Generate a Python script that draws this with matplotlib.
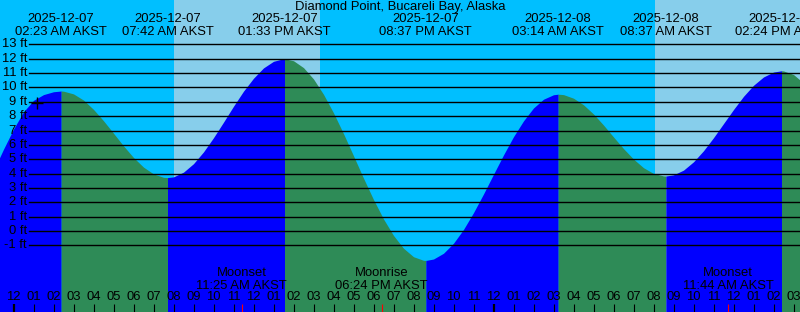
import numpy as np
import matplotlib
matplotlib.use('Agg')
import matplotlib.pyplot as plt

plt.rcParams['font.family'] = ['Liberation Sans', 'DejaVu Sans']
FS = 9.4

# hours counted from 2025-12-07 00:00 AKST
title = 'Diamond Point, Bucareli Bay, Alaska'

# tide extremes (high / low) in the window
tide_hours = [2.383, 7.7, 13.55, 20.617, 27.233, 32.617, 38.4]
tide_ft = [9.75, 3.72, 12.0, -2.05, 9.53, 3.83, 11.16]
tide_dates = ['2025-12-07', '2025-12-07', '2025-12-07', '2025-12-07',
              '2025-12-08', '2025-12-08', '2025-12-08']
tide_clock = ['02:23 AM AKST', '07:42 AM AKST', '01:33 PM AKST', '08:37 PM AKST',
              '03:14 AM AKST', '08:37 AM AKST', '02:24 PM AKST']

# half hourly water level
curve_hours = np.arange(-1.0, 40.0, 0.5)
curve_ft = [4.2, 5.7, 7.1, 8.3, 9.1, 9.5, 9.7, 9.74, 9.55, 9.12,
            8.47, 7.68, 6.81, 5.93, 5.12, 4.45, 3.98, 3.74, 3.77, 4.10,
            4.69, 5.51, 6.50, 7.58, 8.69, 9.74, 10.64, 11.36, 11.82, 12.0,
            11.86, 11.38, 10.59, 9.52, 8.23, 6.78, 5.24, 3.68, 2.19, 0.84,
            -0.31, -1.20, -1.79, -2.04, -1.95, -1.55, -0.85, 0.11, 1.28, 2.58,
            3.95, 5.30, 6.57, 7.67, 8.57, 9.18, 9.49, 9.50, 9.25, 8.79,
            8.15, 7.38, 6.55, 5.74, 5.01, 4.41, 4.01, 3.84, 3.91, 4.24,
            4.82, 5.59, 6.50, 7.48, 8.46, 9.38, 10.15, 10.73, 11.07, 11.15,
            10.90, 10.31]

# daylight
sunrise_hours = [8.03, 32.07]
sunset_hours = [15.33, 39.32]

# moon events
moon_hours = [11.417, 18.4, 35.733]
moon_names = ['Moonset', 'Moonrise', 'Moonset']
moon_clock = ['11:25 AM AKST', '06:24 PM AKST', '11:44 AM AKST']

# the "+" marker
now_hour = 1.175
now_ft = 8.9

levels = list(range(-1, 14))
level_labels = ['%d ft' % v for v in levels]
tick_hours = list(range(0, 40))
tick_labels = ['12' if h % 12 == 0 else '%02d' % (h % 12) for h in tick_hours]

NIGHT = '#00bfff'
DAY = '#87ceeb'
RISE = '#0000ff'
FALL = '#2e8b57'

fig = plt.figure(figsize=(8, 3.12), dpi=100)
ax = fig.add_axes([0, 0, 1, 1])
ax.set_xlim(-0.675, 39.325)
ax.set_ylim(-5.64, 16.09)
ax.axis('off')
ax.set_facecolor(NIGHT)
fig.patch.set_facecolor(NIGHT)

for a, b in zip(sunrise_hours, sunset_hours):
    ax.axvspan(a, b, color=DAY, lw=0, zorder=0)

# merge curve readings with the extremes
t_all = np.concatenate([curve_hours, tide_hours])
h_all = np.concatenate([curve_ft, tide_ft])
order = np.argsort(t_all, kind='stable')
t_all = t_all[order]
h_all = h_all[order]

bounds = [t_all[0]] + tide_hours + [t_all[-1]]
bottom = ax.get_ylim()[0]
for i in range(len(bounds) - 1):
    m = (t_all >= bounds[i]) & (t_all <= bounds[i + 1])
    col = RISE if i % 2 == 0 else FALL
    ax.fill_between(t_all[m], h_all[m], bottom, color=col, lw=0, zorder=1)

for v, lab in zip(levels, level_labels):
    ax.axhline(v, xmin=29 / 800, xmax=1, color='black', lw=1.0, zorder=2)
    ax.text(27 / 800, v, lab, transform=ax.get_yaxis_transform(),
            ha='right', va='center', fontsize=FS, zorder=3)

ax.plot([now_hour], [now_ft], marker='+', color='black', ms=8, mew=1, zorder=3)

# top labels
ax.text(0.5, 0.976, title, transform=ax.transAxes, ha='center', va='center', fontsize=FS)
for t, d, c in zip(tide_hours, tide_dates, tide_clock):
    ax.text(t, 0.9375, d, transform=ax.get_xaxis_transform(), ha='center', va='center', fontsize=FS)
    ax.text(t, 0.899, c, transform=ax.get_xaxis_transform(), ha='center', va='center', fontsize=FS)

# hour axis
xt = ax.get_xaxis_transform()
for h, lab in zip(tick_hours, tick_labels):
    ax.text(h, 0.0465, lab, transform=xt, ha='center', va='center', fontsize=FS, zorder=4)
    ax.vlines(h, 0, 0.026, transform=xt, color='black',
              lw=1.6 if h % 24 == 0 else 0.8, zorder=4)

for t, n, c in zip(moon_hours, moon_names, moon_clock):
    ax.text(t, 0.1234, n, transform=xt, ha='center', va='center', fontsize=FS, zorder=4)
    ax.text(t, 0.0849, c, transform=xt, ha='center', va='center', fontsize=FS, zorder=4)
    ax.vlines(t, 0, 0.026, transform=xt, color='red', lw=0.8, zorder=4)

fig.savefig('out.png', dpi=100, facecolor=NIGHT)
